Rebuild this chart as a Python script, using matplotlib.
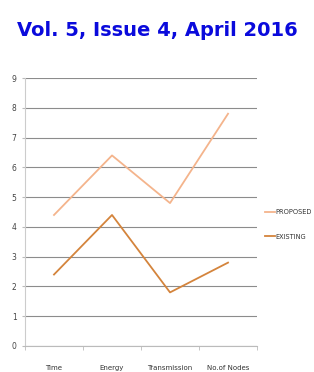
import matplotlib
matplotlib.use("Agg")
import matplotlib.pyplot as plt

categories = ["Time", "Energy", "Transmission", "No.of Nodes"]
proposed = [4.4, 6.4, 4.8, 7.8]
existing = [2.4, 4.4, 1.8, 2.8]
yticks = list(range(0, 10))

fig = plt.figure(figsize=(3.14, 3.72), dpi=100, facecolor="white")
fig.text(0.5, 0.918, "Vol. 5, Issue 4, April 2016", ha="center", va="center",
         fontsize=14, fontweight="bold", color="#0A0ADC", family="DejaVu Sans")

ax = fig.add_axes([0.0796, 0.0699, 0.739, 0.7204])
x = list(range(len(categories)))
ax.plot(x, proposed, color="#F4B48C", linewidth=1.3, label="PROPOSED")
ax.plot(x, existing, color="#D4843C", linewidth=1.3, label="EXISTING")

ax.set_xlim(-0.5, len(categories) - 0.5)
ax.set_ylim(0, 9)
ax.set_yticks(yticks)
ax.set_yticklabels([str(v) for v in yticks], fontsize=5.5, color="#444444")
ax.set_xticks(x)
ax.set_xticklabels(categories, fontsize=5, color="#333333")
ax.tick_params(axis="x", which="major", length=0, pad=14)
ax.set_xticks([i - 0.5 for i in range(len(categories) + 1)], minor=True)
ax.tick_params(axis="x", which="minor", length=3, color="#BBBBBB")
ax.tick_params(axis="y", length=2, color="#BBBBBB", pad=4)

ax.grid(axis="y", color="#8C8C8C", linewidth=0.8)
ax.set_axisbelow(True)
for s in ["top", "right"]:
    ax.spines[s].set_visible(False)
ax.spines["left"].set_color("#CCCCCC")
ax.spines["bottom"].set_color("#BBBBBB")

leg = fig.legend(loc="upper left", bbox_to_anchor=(0.835, 0.445), frameon=False,
                 fontsize=4.8, handlelength=1.5, handletextpad=0.15, labelspacing=2.8,
                 borderaxespad=0)
for t in leg.get_texts():
    t.set_color("#333333")

fig.savefig("out.png", dpi=100, facecolor="white")
